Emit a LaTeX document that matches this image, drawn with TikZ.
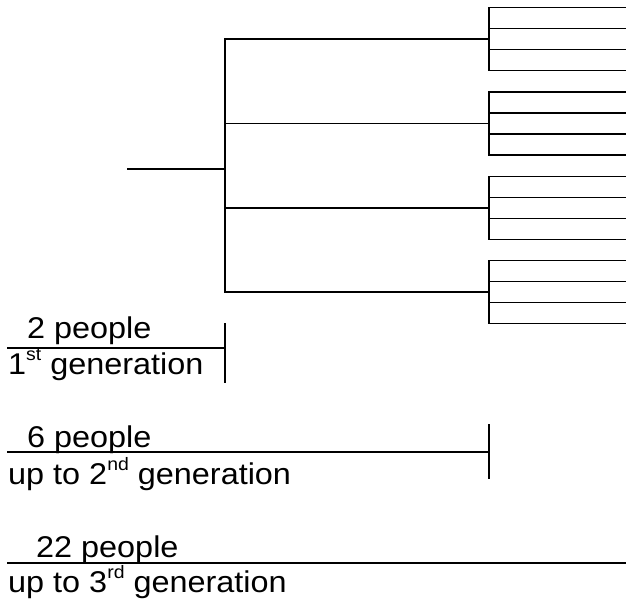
\documentclass[tikz,border=0pt]{standalone}
\usepackage{fontspec}
\setmainfont{Liberation Sans}
\newcommand{\wide}[1]{\scalebox{1.08}[1]{#1}}
\newcommand{\sups}[1]{\raisebox{14pt}{\fontsize{18}{18}\selectfont #1}}
\tikzset{
  wire/.style={line width=1.5pt, line cap=rect},
  lab/.style={anchor=base west, inner sep=0pt, font=\fontsize{30}{30}\selectfont}
}
\begin{document}
\begin{tikzpicture}[x=1pt,y=-1pt]
\useasboundingbox (0,0) rectangle (626,602);
% root and trunk
\coordinate (r0) at (128,169);
\coordinate (r1) at (225,169);
\coordinate (t0) at (225,39);
\coordinate (t3) at (225,292);
\draw[wire] (r0) -- (r1);
\draw[wire] (t0) -- (t3);
% branches and groups
\foreach \k/\c in {0/39,1/123.5,2/208,3/292}{
  \coordinate (b\k) at (225,\c);
  \coordinate (e\k) at (489,\c);
  \coordinate (gt\k) at (489,\c-31.5);
  \coordinate (gb\k) at (489,\c+31.5);
  \draw[wire] (b\k) -- (e\k);
  \draw[wire] (gt\k) -- (gb\k);
  \foreach \j/\d in {0/-31.5,1/-10.5,2/10.5,3/31.5}{
    \coordinate (l\k\j) at (489,\c+\d);
    \coordinate (m\k\j) at (626,\c+\d);
    \draw[wire] (l\k\j) -- (m\k\j);
  }
}
% legend 1
\coordinate (a0) at (8,348);
\coordinate (a1) at (225,348);
\coordinate (a2) at (225,324);
\coordinate (a3) at (225,382);
\draw[wire] (a0) -- (a1);
\draw[wire] (a2) -- (a3);
\node[lab] (p1) at (27,338) {\wide{2 people}};
\node[lab] (q1) at (8,374) {\wide{1\sups{st} generation}};
% legend 2
\coordinate (c0) at (8,452);
\coordinate (c1) at (489,452);
\coordinate (c2) at (489,425);
\coordinate (c3) at (489,478);
\draw[wire] (c0) -- (c1);
\draw[wire] (c2) -- (c3);
\node[lab] (p2) at (27,447) {\wide{6 people}};
\node[lab] (q2) at (8,484) {\wide{up to 2\sups{nd} generation}};
% legend 3
\coordinate (d0) at (8,563);
\coordinate (d1) at (626,563);
\draw[wire] (d0) -- (d1);
\node[lab] (p3) at (36,557) {\wide{22 people}};
\node[lab] (q3) at (8,592) {\wide{up to 3\sups{rd} generation}};
\end{tikzpicture}
\end{document}
